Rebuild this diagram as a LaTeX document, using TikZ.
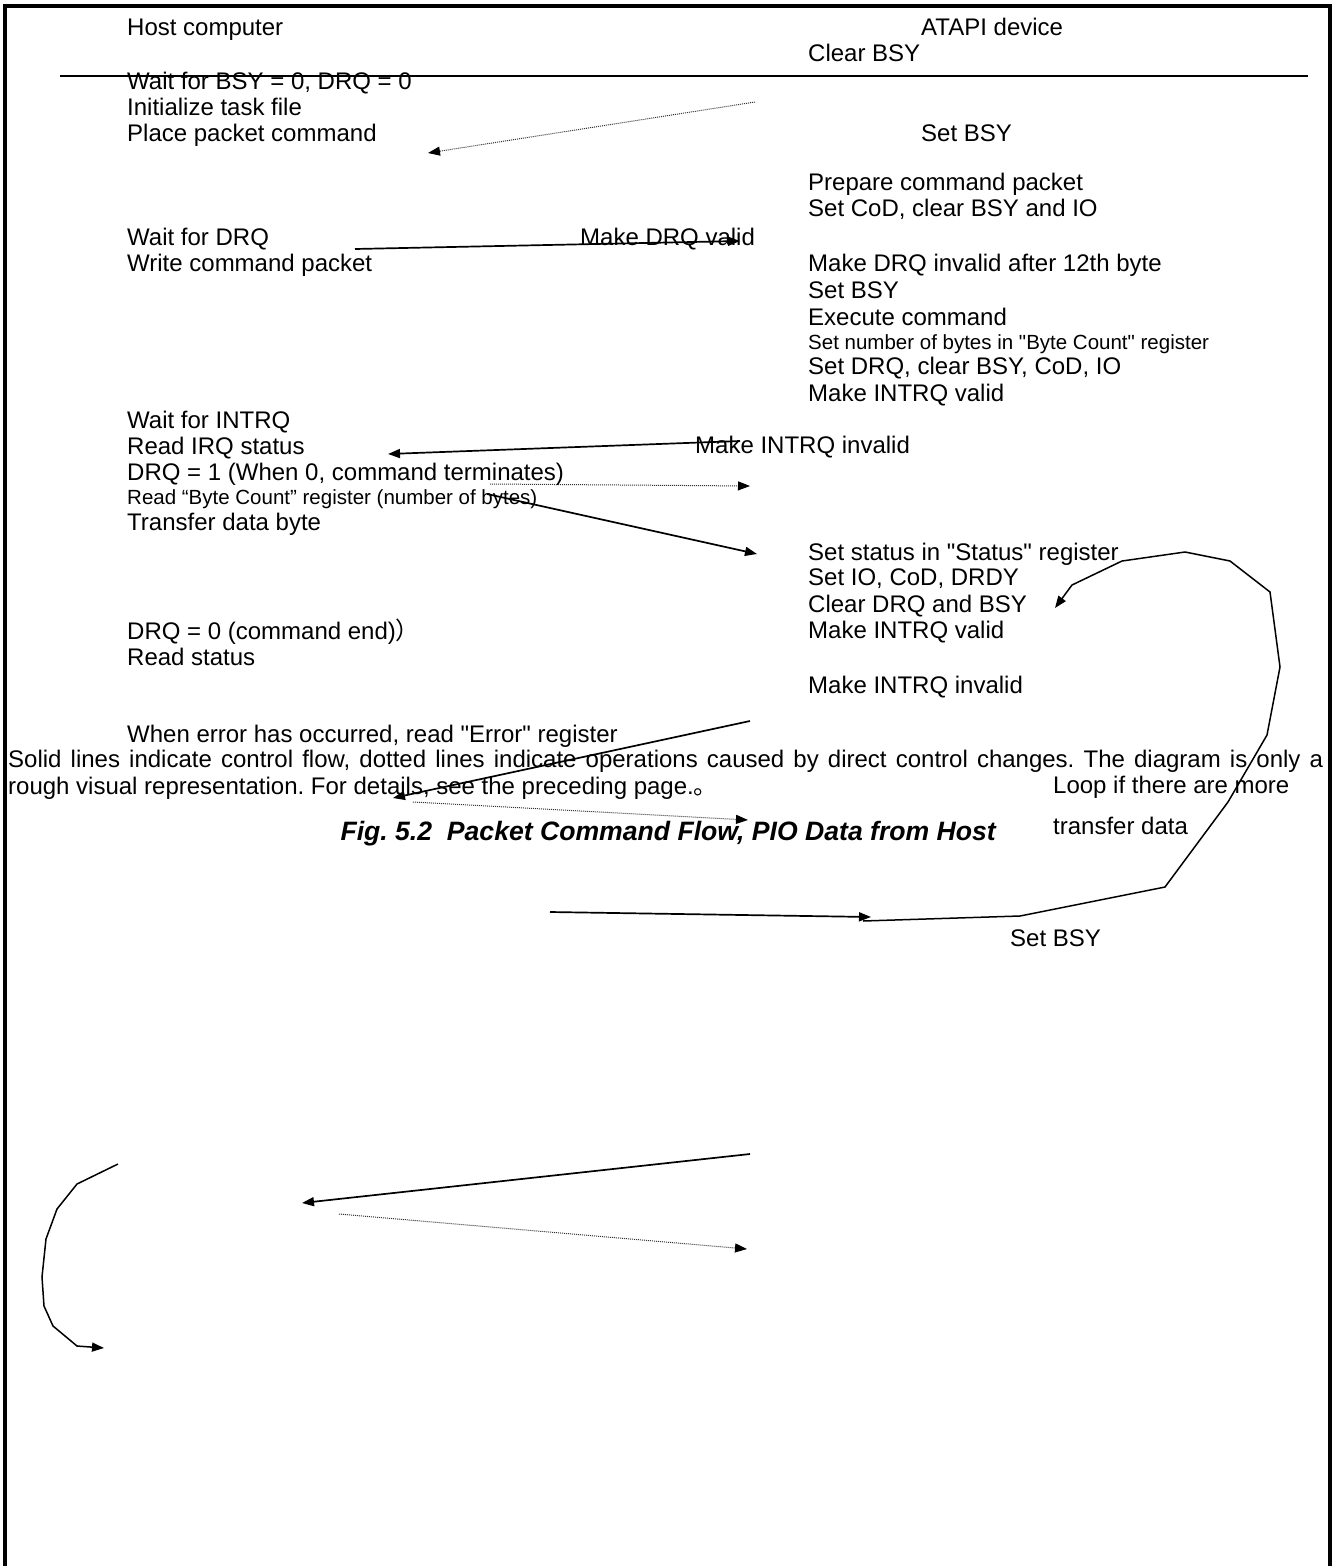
\documentclass[tikz,border=0pt]{standalone}
\usepackage{fontspec}
\setmainfont{Liberation Sans}
\newfontfamily\cjkfont{Noto Sans CJK SC}
\usetikzlibrary{arrows.meta}
\newcommand{\sq}{\textquotedbl}
\frenchspacing
\begin{document}
\begin{tikzpicture}[x=1pt,y=-1pt,
  txt/.style={anchor=base west, inner sep=0pt, font=\fontsize{24}{26}\selectfont\frenchspacing},
  sml/.style={anchor=base west, inner sep=0pt, font=\fontsize{20.5}{22}\selectfont},
  figcap/.style={anchor=base east, inner sep=0pt, font=\fontsize{26.6}{28}\selectfont\bfseries\itshape},
  flow/.style={line width=1.7pt, -{Triangle[length=12pt,width=9pt]}},
  sig/.style={line width=1pt, black!80, dash pattern=on 1pt off 1pt, -{Triangle[length=12pt,width=9pt,black]}},
  loopline/.style={line width=1.5pt, line join=miter, -{Triangle[length=12pt,width=9pt]}},
  seprule/.style={line width=2pt},
  outerframe/.style={line width=4pt}
]
\useasboundingbox (0,0) rectangle (1335,1566);
% frame (open at the bottom)
\draw[outerframe] (5,1566) -- (5,6) -- (1330,6) -- (1330,1566);

% host column
\node[txt] (hc)  at (127,35.5)  {Host computer};
\node[txt] (h1)  at (127,89.5)  {Wait for BSY = 0, DRQ = 0};
\node[txt] (h2)  at (127,115.5) {Initialize task file};
\node[txt] (h3)  at (127,141.5) {Place packet command};
\node[txt] (h4)  at (127,245.5) {Wait for DRQ};
\node[txt] (h5)  at (127,271.5) {Write command packet};
\node[txt] (h6)  at (127,428.5) {Wait for INTRQ};
\node[txt] (h7)  at (127,454.5) {Read IRQ status};
\node[txt] (h8)  at (127,480.5) {DRQ = 1 (When 0, command terminates)};
\node[sml] (h9)  at (127,504.5) {Read “Byte Count” register (number of bytes)};
\node[txt] (h10) at (127,530.5) {Transfer data byte};
\node[txt] (h11) at (127,639.5) {DRQ = 0 (command end){\cjkfont ）}};
\node[txt] (h12) at (127,665.5) {Read status};
\node[txt] (h13) at (127,742.5) {When error has occurred, read \sq Error\sq{} register};

% device column
\node[txt] (dc)  at (921,35.5)  {ATAPI device};
\node[txt] (d1)  at (808,61.5)  {Clear BSY};
\node[txt] (d2)  at (921,141.5) {Set BSY};
\node[txt] (d3)  at (808,190.5) {Prepare command packet};
\node[txt] (d4)  at (808,216.5) {Set CoD, clear BSY and IO};
\node[txt] (d5)  at (580,245.5) {Make DRQ valid};
\node[txt] (d6)  at (808,271.5) {Make DRQ invalid after 12th byte};
\node[txt] (d7)  at (808,298.5) {Set BSY};
\node[txt] (d8)  at (808,325.5) {Execute command};
\node[sml] (d9)  at (808,349)   {Set number of bytes in \sq Byte Count\sq{} register};
\node[txt] (d10) at (808,374.5) {Set DRQ, clear BSY, CoD, IO};
\node[txt] (d11) at (808,401.5) {Make INTRQ valid};
\node[txt] (d12) at (695,453.5) {Make INTRQ invalid};
\node[txt] (d13) at (808,560.5) {Set status in \sq Status\sq{} register};
\node[txt] (d14) at (808,585.5) {Set IO, CoD, DRDY};
\node[txt] (d15) at (808,612.5) {Clear DRQ and BSY};
\node[txt] (d16) at (808,638.5) {Make INTRQ valid};
\node[txt] (d17) at (808,693.5) {Make INTRQ invalid};
\node[txt] (lp1) at (1053,793.5) {Loop if there are more};
\node[txt] (lp2) at (1053,834.5) {transfer data};
\node[txt] (d18) at (1010,946)   {Set BSY};

% note and caption
\node[txt] (n1) at (8,767.5) {\makebox[1315pt][s]{Solid lines indicate control flow, dotted lines indicate operations caused by direct control changes. The diagram is only a}};
\node[txt] (n2) at (8,794.5) {rough visual representation. For details, see the preceding page.{\cjkfont 。}};
\node[figcap] (fig) at (996,840) {Fig. 5.2\ \ Packet Command Flow, PIO Data from Host};

% separator rule
\coordinate (r0) at (60,76);
\coordinate (r1) at (1308,76);
\draw[seprule] (r0) -- (r1);

% connector end points
\coordinate (a1s) at (755,102);  \coordinate (a1e) at (428,153);
\coordinate (a2s) at (355,249);  \coordinate (a2e) at (740,241);
\coordinate (a3s) at (740,441);  \coordinate (a3e) at (388,454);
\coordinate (a4s) at (490,484);  \coordinate (a4e) at (750,486);
\coordinate (a5s) at (487,494);  \coordinate (a5e) at (757,554);
\coordinate (a6s) at (750,721);  \coordinate (a6e) at (393,798);
\coordinate (a7s) at (413,802);  \coordinate (a7e) at (748,820);
\coordinate (a8s) at (550,912);  \coordinate (a8e) at (871,917);
\coordinate (a9s) at (750,1154); \coordinate (a9e) at (302,1203);
\coordinate (a10s) at (339,1214); \coordinate (a10e) at (747,1249);
\coordinate (lpS) at (863,921);  \coordinate (lpE) at (1055,608);
\coordinate (lfS) at (118,1164); \coordinate (lfE) at (104,1348);

\draw[sig]  (a1s) -- (a1e);
\draw[flow] (a2s) -- (a2e);
\draw[flow] (a3s) -- (a3e);
\draw[sig]  (a4s) -- (a4e);
\draw[flow] (a5s) -- (a5e);
\draw[flow] (a6s) -- (a6e);
\draw[sig]  (a7s) -- (a7e);
\draw[flow] (a8s) -- (a8e);
\draw[flow] (a9s) -- (a9e);
\draw[sig]  (a10s) -- (a10e);

% loop back polyline
\draw[loopline] (lpS) -- (1020,916) -- (1165,887) -- (1228,802) -- (1267,735)
  -- (1280,667) -- (1270,592) -- (1230,561) -- (1185,552) -- (1122,561)
  -- (1072,585) -- (lpE);
% left curved polyline
\draw[loopline] (lfS) -- (77,1184) -- (57,1209) -- (46,1239) -- (42,1277)
  -- (44,1306) -- (53,1326) -- (77,1346) -- (lfE);
\end{tikzpicture}
\end{document}
